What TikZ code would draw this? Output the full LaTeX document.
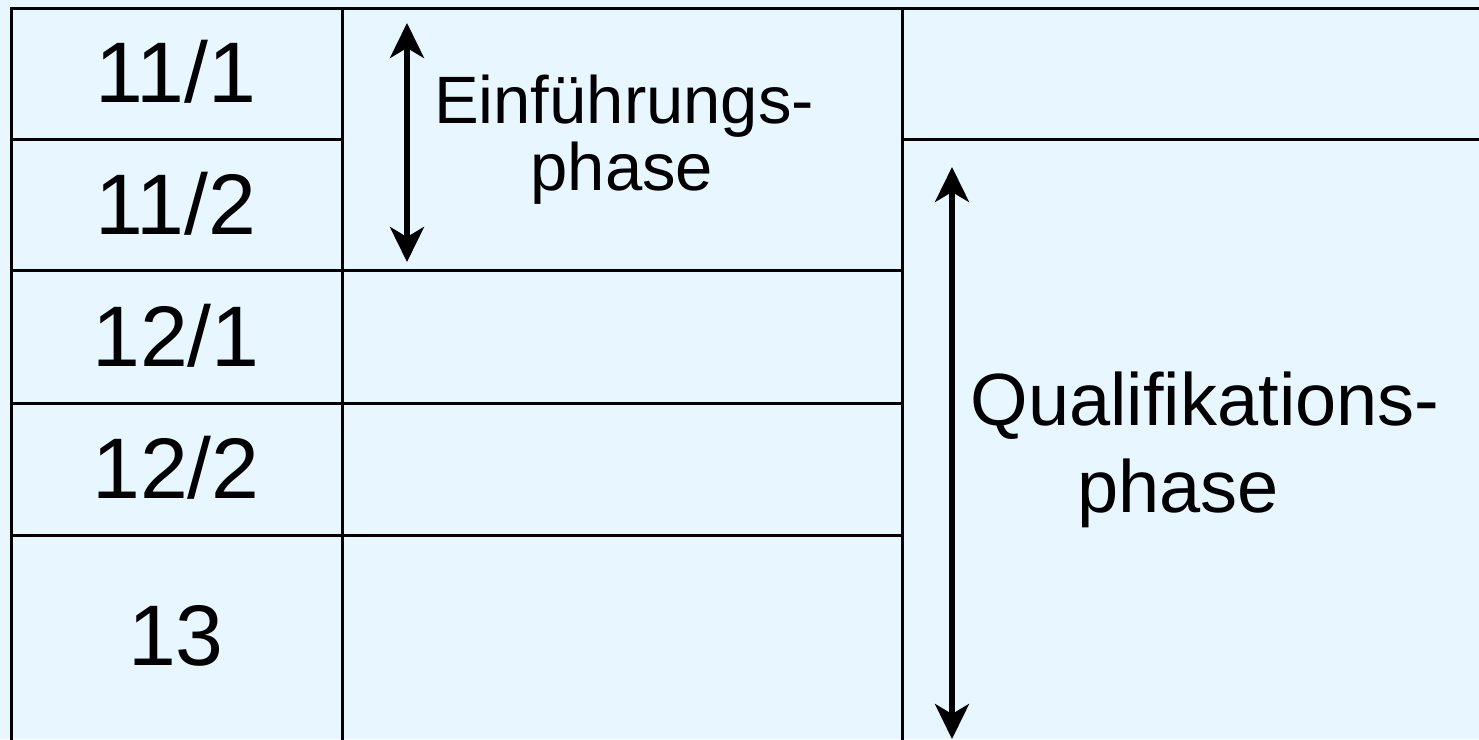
\documentclass[tikz,border=0pt]{standalone}
\usepackage{fontspec}
\setmainfont{Liberation Sans}
\usepackage{tikz}
\usetikzlibrary{arrows.meta}
\definecolor{paleblue}{RGB}{232,246,255}

\begin{document}
\begin{tikzpicture}[x=1pt, y=-1pt,
    grid/.style = {line width=3pt, line cap=rect},
    term/.style = {font=\fontsize{86}{86}\selectfont, inner sep=0pt},
    phasetxt/.style = {inner sep=0pt, anchor=base},
    span/.style = {line width=5.5pt, {Stealth[length=35pt,width=34pt,inset=10pt]}-{Stealth[length=35pt,width=34pt,inset=10pt]}}]
  \fill[paleblue] (0,0) rectangle (1479,739);
  \useasboundingbox (0,0) rectangle (1479,739);
  % grid
  \draw[grid] (11,8) -- (1479,8);
  \draw[grid] (11,139) -- (342,139);
  \draw[grid] (902,139) -- (1479,139);
  \draw[grid] (11,270) -- (902,270);
  \draw[grid] (11,403) -- (902,403);
  \draw[grid] (11,535) -- (902,535);
  \draw[grid] (11,8) -- (11,739);
  \draw[grid] (342,8) -- (342,739);
  \draw[grid] (902,8) -- (902,739);
  % half-years
  \node[term] (h111) at (176,72) {11/1};
  \node[term] (h112) at (176,204) {11/2};
  \node[term] (h121) at (176,336) {12/1};
  \node[term] (h122) at (176,468) {12/2};
  \node[term] (h13) at (176,636) {13};
  % phases
  \node[phasetxt, font=\fontsize{67}{67}\selectfont] (ein1) at (624,123) {Einführungs-};
  \node[phasetxt, font=\fontsize{67}{67}\selectfont] (ein2) at (622,190) {phase};
  \node[phasetxt, font=\fontsize{74}{74}\selectfont] (qual1) at (1205,425) {Qualifikations-};
  \node[phasetxt, font=\fontsize{74}{74}\selectfont] (qual2) at (1178,512) {phase};
  \coordinate (eintop) at (407,23);
  \coordinate (einbot) at (407,262);
  \coordinate (qualtop) at (952,167);
  \coordinate (qualbot) at (952,739);
  \draw[span] (eintop) -- (einbot);
  \draw[span] (qualtop) -- (qualbot);
\end{tikzpicture}
\end{document}
